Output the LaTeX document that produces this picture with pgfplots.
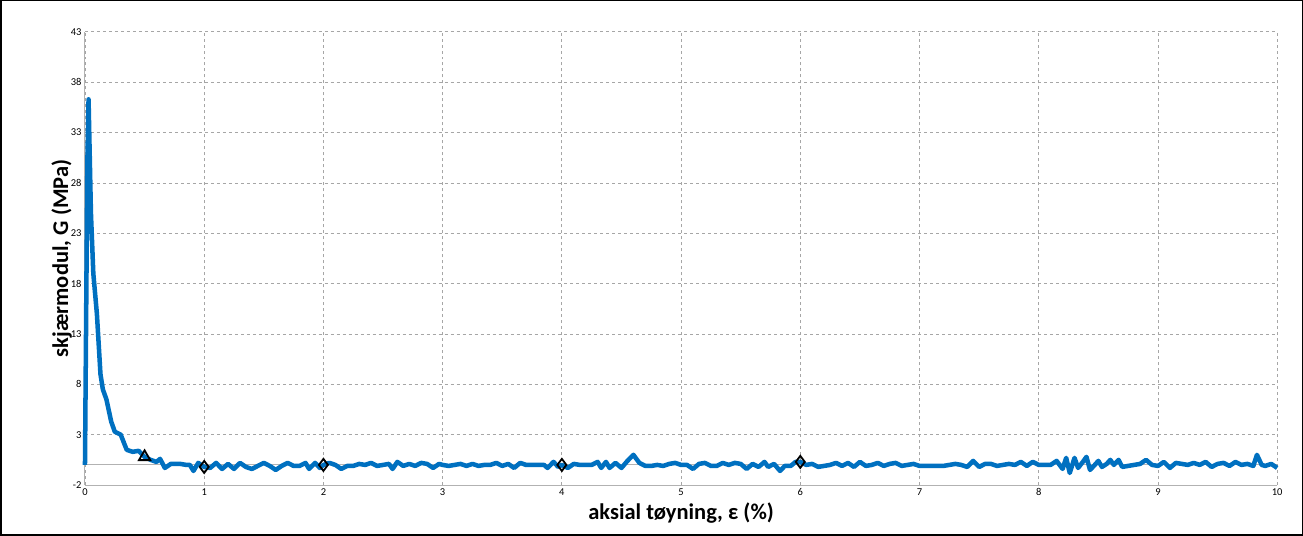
\documentclass[border=0pt]{standalone}
\usepackage{pgfplots}
\pgfplotsset{compat=1.18}
\usepackage{fontspec}
\setmainfont{Carlito}
\begin{document}
\begin{tikzpicture}
\begin{axis}[
 scale only axis, width=1189bp, height=452bp,
 xmin=0,xmax=10,ymin=-2,ymax=43,
 xtick={0,1,...,10}, ytick={-2,3,8,13,18,23,28,33,38,43},
 grid=major, major grid style={gray!70,dashed,line width=0.8bp},
 axis line style={gray!60,line width=1bp},
 axis x line*=bottom, axis y line*=left,
 tick style={draw=none},
 ticklabel style={font=\fontsize{10.5}{12}\selectfont},
 /pgf/number format/assume math mode=true,
 xlabel={\bfseries aksial tøyning, ε (\%)},
 ylabel={\bfseries skjærmodul, G (MPa)},
 label style={font=\fontsize{22.5}{24}\selectfont},
 xlabel style={yshift=0bp}, ylabel style={yshift=-8bp},
 clip=false,
]
\draw[gray!60,line width=1bp] (axis cs:0,0) -- (axis cs:10,0);
\addplot[color={rgb,255:red,0;green,112;blue,192}, line width=4.5bp, line join=round] coordinates {
(0,0)(0.02,30)(0.03,36.3)(0.05,25)(0.07,19)(0.1,15)(0.13,9)(0.15,7.5)(0.18,6.5)(0.22,4.3)(0.25,3.3)(0.3,3.0)(0.35,1.5)(0.4,1.3)(0.45,1.4)(0.5,0.8)(0.55,0.5)(0.6,0.3)(0.63,0.6)(0.67,-0.3)(0.72,0.1)(0.8,0.1)(0.85,0)(0.88,0)(0.91,-0.6)(0.95,0.2)(1.0,-0.2)
(1.05,-0.3)(1.1,0.2)(1.15,-0.4)(1.2,0.1)(1.25,-0.4)(1.3,0.2)(1.35,-0.2)(1.4,-0.4)(1.45,-0.1)(1.5,0.2)(1.55,-0.1)(1.6,-0.5)(1.65,-0.1)(1.7,0.2)(1.75,-0.1)(1.8,-0.1)(1.85,0.2)(1.88,-0.4)(1.93,0.2)(1.97,-0.3)(2.0,0)
(2.05,0.2)(2.1,0)(2.15,-0.4)(2.2,-0.1)(2.25,-0.1)(2.3,0.1)(2.35,0)(2.4,0.2)(2.45,-0.1)(2.5,0)(2.55,0.1)(2.58,-0.4)(2.62,0.3)(2.67,-0.1)(2.72,0.1)(2.77,-0.1)(2.82,0.2)(2.87,0.1)(2.92,-0.3)(2.97,0.1)(3.0,0)
(3.05,-0.1)(3.1,0)(3.15,0.1)(3.2,-0.1)(3.25,0.1)(3.3,-0.1)(3.35,0)(3.4,0)(3.45,0.2)(3.5,-0.1)(3.55,0.1)(3.6,-0.3)(3.65,0.2)(3.7,0)(3.75,0)(3.8,0)(3.85,0)(3.88,-0.3)(3.93,0.3)(3.97,-0.2)(4.0,0)
(4.05,-0.3)(4.1,0.1)(4.15,0)(4.2,0)(4.25,0)(4.3,0.3)(4.33,-0.3)(4.37,0.3)(4.4,-0.3)(4.45,0.2)(4.5,-0.3)(4.55,0.4)(4.6,1.0)(4.65,0.2)(4.7,-0.1)(4.75,-0.1)(4.8,0)(4.85,-0.1)(4.9,0.1)(4.95,0.2)(5.0,0)
(5.05,0)(5.1,-0.4)(5.15,0.1)(5.2,0.2)(5.25,-0.1)(5.3,-0.1)(5.35,0.2)(5.4,0)(5.45,0.2)(5.5,0.1)(5.55,-0.4)(5.6,0.1)(5.65,-0.2)(5.7,0.3)(5.73,-0.2)(5.78,0.1)(5.83,-0.6)(5.87,-0.1)(5.92,-0.1)(5.96,0.3)(6.0,0.3)
(6.05,0)(6.1,0.1)(6.15,-0.2)(6.2,-0.1)(6.25,0)(6.3,0.2)(6.35,-0.1)(6.4,0.2)(6.45,-0.2)(6.5,0.3)(6.55,-0.1)(6.6,0)(6.65,0.2)(6.7,-0.1)(6.75,0.1)(6.8,0.2)(6.85,-0.1)(6.9,0)(6.95,0.1)(7.0,-0.1)
(7.1,-0.1)(7.2,-0.1)(7.25,0)(7.3,0.1)(7.35,0)(7.4,-0.2)(7.45,0.4)(7.5,-0.2)(7.55,0.1)(7.6,0.1)(7.65,-0.1)(7.7,0)(7.75,0.1)(7.8,0)(7.85,0.3)(7.9,-0.1)(7.95,0.3)(8.0,0)
(8.05,0)(8.1,0)(8.15,0.4)(8.2,-0.4)(8.23,0.7)(8.26,-0.8)(8.3,0.7)(8.33,-0.3)(8.37,0.3)(8.4,0.8)(8.43,-0.5)(8.47,0)(8.5,0.4)(8.53,-0.2)(8.57,0.1)(8.6,0.5)(8.63,0)(8.67,0.5)(8.7,-0.2)(8.75,-0.1)(8.8,0)(8.85,0.1)(8.9,0.5)(8.95,0)(9.0,-0.1)
(9.05,0.3)(9.1,-0.3)(9.15,0.2)(9.2,0.1)(9.25,0)(9.3,0.2)(9.35,0)(9.4,0.3)(9.45,-0.2)(9.5,0.1)(9.55,0.2)(9.6,-0.1)(9.65,0.3)(9.7,0)(9.75,0.1)(9.8,-0.1)(9.83,1.0)(9.87,0)(9.9,-0.1)(9.95,0.1)(10,-0.3)
};
\addplot[only marks, mark=triangle, mark size=6.5bp, line width=1.8bp, black] coordinates {(0.5,0.8)};
\addplot[only marks, mark=diamond, mark size=6bp, line width=1.8bp, black] coordinates {(1,-0.2)(2,0)(4,0)(6,0.3)};
\draw[black,line width=1.5bp] ([shift={(-84bp,-50bp)}]current axis.south west) rectangle ([shift={(25bp,31bp)}]current axis.north east);
\end{axis}
\end{tikzpicture}
\end{document}
